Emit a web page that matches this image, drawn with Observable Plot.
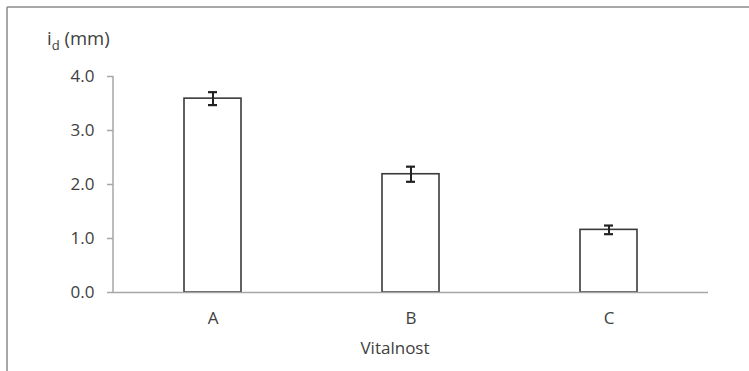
<!DOCTYPE html>
<html>
<head>
<meta charset="utf-8">
<script src="https://cdn.jsdelivr.net/npm/d3@7"></script>
<script src="https://cdn.jsdelivr.net/npm/@observablehq/plot@0.6"></script>
<style>
  html, body { margin: 0; padding: 0; background: #fff; }
  #chart { width: 749px; height: 371px; overflow: hidden; }
</style>
</head>
<body>
<div id="chart"></div>
<script>
const categories = ["A", "B", "C"];
const means = [3.59, 2.19, 1.16];
const errors = [0.12, 0.14, 0.08];
const yTicks = [0, 1, 2, 3, 4];
const xTitle = "Vitalnost";

const data = categories.map((c, i) => ({cat: c, mean: means[i], err: errors[i]}));

const font = "'Open Sans', sans-serif";
const textColor = "#404040";
const axisColor = "#a6a6a6";

const plot = Plot.plot({
  width: 749,
  height: 371,
  marginLeft: 113,
  marginRight: 41,
  marginTop: 76,
  marginBottom: 79,
  style: {fontFamily: font, fontSize: "17px", color: textColor, background: "#fff", overflow: "visible"},
  x: {domain: categories, paddingInner: 0.713, paddingOuter: 0.3565, align: 0.5},
  y: {domain: [0, 4]},
  marks: [
    Plot.barY(data, {x: "cat", y: "mean", fill: "#fff", stroke: "#3a3a3a", strokeWidth: 1.6}),
    Plot.ruleY([0], {stroke: axisColor, strokeWidth: 1.5}),
    Plot.ruleX(data, {x: "cat", y1: d => d.mean - d.err, y2: d => d.mean + d.err, stroke: "#222", strokeWidth: 2}),
    Plot.tickY(data, {x: "cat", y: d => d.mean + d.err, stroke: "#222", strokeWidth: 2.2, insetLeft: 24, insetRight: 24}),
    Plot.tickY(data, {x: "cat", y: d => d.mean - d.err, stroke: "#222", strokeWidth: 2.2, insetLeft: 24, insetRight: 24}),
    Plot.axisY({ticks: yTicks, tickFormat: d => d.toFixed(1), tickSize: 6, tickPadding: 13, stroke: axisColor, strokeWidth: 1.5, label: null, fill: textColor}),
    Plot.axisX({tickSize: 0, tickPadding: 19, label: null, fill: textColor}),
    Plot.text([xTitle], {frameAnchor: "bottom", dy: 61, dx: -16, fill: textColor, fontSize: 17, lineAnchor: "bottom"})
  ]
});

document.getElementById("chart").appendChild(plot);

const svg = d3.select(plot);
const xs = plot.scale("x");
const ys = plot.scale("y");
// y-axis domain line from the y scale
svg.append("line")
  .attr("x1", xs.range[0]).attr("x2", xs.range[0])
  .attr("y1", ys.apply(yTicks[0])).attr("y2", ys.apply(yTicks[yTicks.length - 1]))
  .attr("stroke", axisColor).attr("stroke-width", 1.5);
// Outer chart frame (top and left edges visible in reference)
svg.insert("line", ":first-child")
  .attr("x1", 7).attr("x2", 749).attr("y1", 7).attr("y2", 7)
  .attr("stroke", "#8a8a8a").attr("stroke-width", 1.5);
svg.insert("line", ":first-child")
  .attr("x1", 7).attr("x2", 7).attr("y1", 7).attr("y2", 371)
  .attr("stroke", "#8a8a8a").attr("stroke-width", 1.5);
// y-axis title with subscript
const t = svg.append("text")
  .attr("x", 47).attr("y", 45)
  .attr("text-anchor", "start")
  .attr("fill", textColor)
  .style("font-family", font).style("font-size", "18.5px");
t.append("tspan").text("i");
t.append("tspan").attr("dy", 5).style("font-size", "13px").text("d");
t.append("tspan").attr("dy", -5).text(" (mm)");
</script>
</body>
</html>
